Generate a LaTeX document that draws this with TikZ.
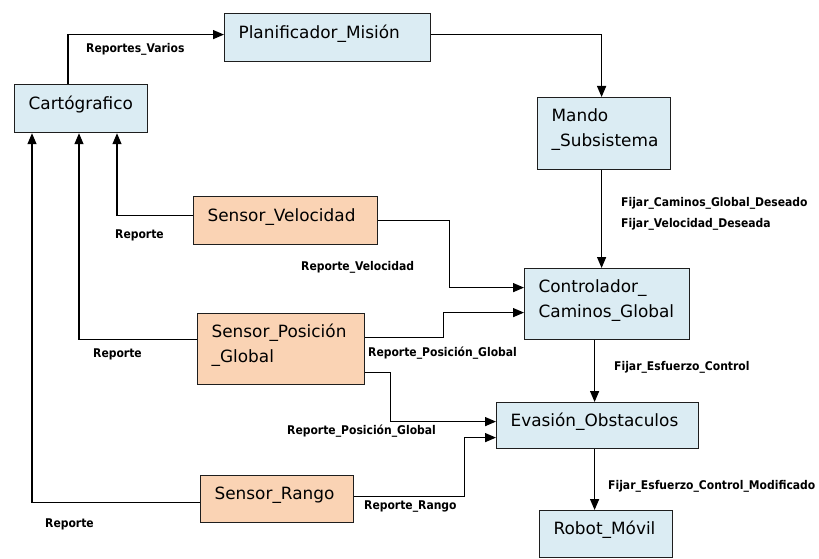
\documentclass[tikz,border=0pt]{standalone}
\usepackage{fontspec}
\setmainfont{DejaVu Sans}
\newfontfamily\lblfont{DejaVu Sans Condensed}
\usetikzlibrary{arrows.meta,calc}
\definecolor{sysblue}{RGB}{219,236,243}
\definecolor{sensororange}{RGB}{250,211,180}
\definecolor{edgegray}{RGB}{30,30,30}
% extra depth that lifts box text slightly above the box centre
\newcommand\liftup{\rule[-12pt]{0pt}{12pt}}
\begin{document}
\begin{tikzpicture}[x=1pt,y=-1pt,
  box/.style={draw=edgegray, line width=1.2pt, anchor=north west,
    inner xsep=14pt, inner ysep=0pt, align=left,
    font=\fontsize{16.9}{25}\selectfont},
  sysbox/.style={box, fill=sysblue},
  sensorbox/.style={box, fill=sensororange},
  arr/.style={draw=black, line width=1.3pt, -{Triangle[length=11pt,width=9pt]}},
  lbl/.style={font=\lblfont\bfseries\fontsize{12}{21}\selectfont, anchor=west,
    inner sep=0pt, align=left}]
\useasboundingbox (0,0) rectangle (819,559);
\fill[white] (0,0) rectangle (819,559);

% system blocks
\node[sysbox, text width=178pt, minimum height=48pt] (plan) at (224,13) {Planificador\_Misión\liftup};
\node[sysbox, text width=105pt, minimum height=48pt] (cart) at (14,84) {Cartógrafico\liftup};
\node[sysbox, text width=105pt, minimum height=72pt] (mando) at (537,97) {Mando\\\_Subsistema\liftup};
\node[sysbox, text width=137pt, minimum height=71pt] (ctrl) at (524,268) {Controlador\_\\Caminos\_Global\liftup};
\node[sysbox, text width=174pt, minimum height=46pt] (evas) at (496,402) {Evasión\_Obstaculos\liftup};
\node[sysbox, text width=105pt, minimum height=47pt] (robot) at (539,510) {Robot\_Móvil\liftup};

% sensors
\node[sensorbox, text width=156pt, minimum height=48pt] (svel) at (193,196) {Sensor\_Velocidad\liftup};
\node[sensorbox, text width=139pt, minimum height=71pt] (spos) at (197,313) {Sensor\_Posición\\\_Global\liftup};
\node[sensorbox, text width=125pt, minimum height=47pt] (srango) at (200,475) {Sensor\_Rango\liftup};

% command chain
\draw[arr] ([xshift=54pt]cart.north west) |- ([yshift=3pt]plan.west);
\draw[arr] ([yshift=3pt]plan.east) -| ([xshift=-2.5pt]mando.north);
\draw[arr] ([xshift=-2.5pt]mando.south) -- ([xshift=-2.5pt]mando.south |- ctrl.north);
\draw[arr] ([xshift=-3pt]evas.north |- ctrl.south) -- ([xshift=-3pt]evas.north);
\draw[arr] ([xshift=-3pt]evas.south) -- ([xshift=-3pt]evas.south |- robot.north);

% reports to the map builder
\draw[arr] ([yshift=5pt]svel.west) -| ([xshift=103pt]cart.south west);
\draw[arr] ([yshift=9.5pt]spos.west) -| ([xshift=65pt]cart.south west);
\draw[arr] ([yshift=-3.5pt]srango.west) -| ([xshift=18pt]cart.south west);

% sensor data to the controllers
\draw[arr] (svel.east) -- ++(71,0) |- ([yshift=16.5pt]ctrl.west);
\draw[arr] ([yshift=11.5pt]spos.east) -- ++(78,0) |- ([yshift=-8.5pt]ctrl.west);
\draw[arr] ([yshift=-23.5pt]spos.east) -- ++(25,0) |- ([yshift=4pt]evas.west);
\draw[arr] ([yshift=2.5pt]srango.east) -- ++(110,0) |- ([yshift=-12pt]evas.west);

% connector labels
\node[lbl] (lvarios) at (86,49) {Reportes\_Varios};
\node[lbl] (ldeseado) at (621,213.5) {Fijar\_Caminos\_Global\_Deseado\\Fijar\_Velocidad\_Deseada};
\node[lbl] (lesf) at (614,367) {Fijar\_Esfuerzo\_Control};
\node[lbl] (lmod) at (608,486) {Fijar\_Esfuerzo\_Control\_Modificado};
\node[lbl] (lrep1) at (115,235) {Reporte};
\node[lbl] (lvel) at (301,267) {Reporte\_Velocidad};
\node[lbl] (lrep2) at (93,354) {Reporte};
\node[lbl] (lpos1) at (368,353) {Reporte\_Posición\_Global};
\node[lbl] (lpos2) at (287,431) {Reporte\_Posición\_Global};
\node[lbl] (lrep3) at (45,524) {Reporte};
\node[lbl] (lrango) at (364,507) {Reporte\_Rango};
\end{tikzpicture}
\end{document}
